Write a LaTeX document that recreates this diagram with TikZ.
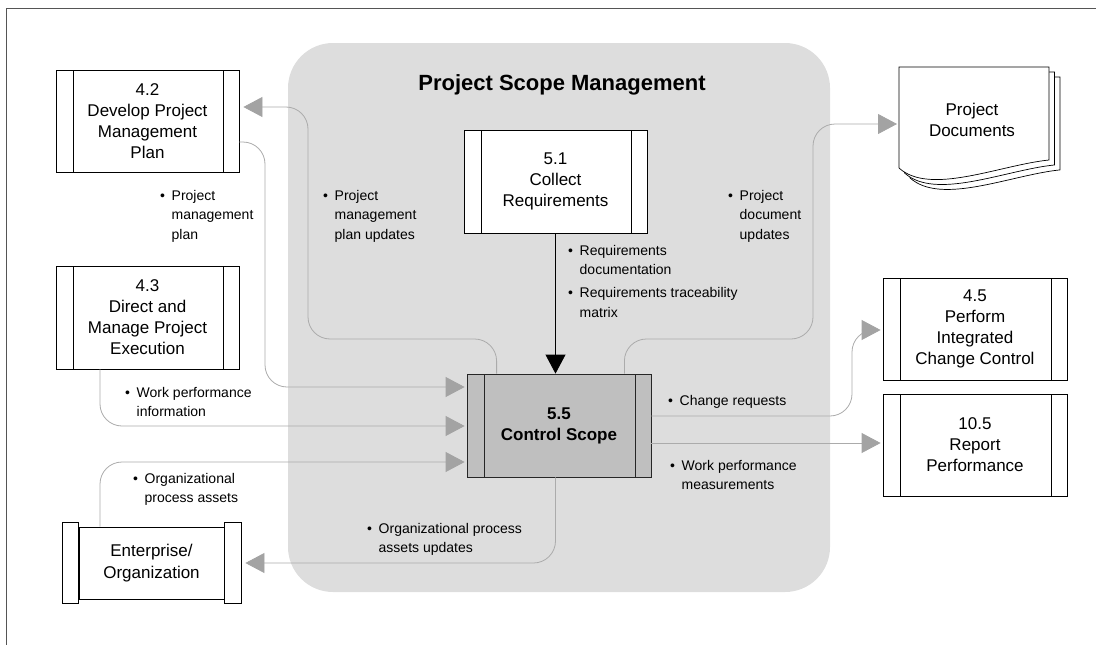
\documentclass[tikz,border=0pt]{standalone}
\usepackage{fontspec}
\setmainfont{Liberation Sans}
\usetikzlibrary{arrows.meta,calc}
\definecolor{regionfill}{HTML}{DDDDDD}
\definecolor{csfill}{HTML}{BFBFBF}
\definecolor{flowline}{HTML}{ABABAB}
\definecolor{tipgray}{HTML}{A3A3A3}
\definecolor{framegray}{HTML}{555555}
\newcommand\bu{\makebox[11.5pt][l]{\textbullet}}
\newcommand\bs{\hspace*{11.5pt}}
\newcommand\lbllines[1]{\begin{tabular}[t]{@{}l@{}}#1\end{tabular}}
\begin{document}
\begin{tikzpicture}[x=1pt,y=-1pt,
  proc/.style={draw=black, line width=0.8pt, fill=white, minimum width=183pt,
    minimum height=102pt, inner sep=0pt, align=center,
    font=\fontsize{17}{21}\selectfont,
    path picture={
      \draw[line width=0.8pt] ([xshift=17pt]path picture bounding box.north west) -- ([xshift=17pt]path picture bounding box.south west);
      \draw[line width=0.8pt] ([xshift=-16pt]path picture bounding box.north east) -- ([xshift=-16pt]path picture bounding box.south east);}},
  csbox/.style={proc, fill=csfill, draw=black!85, minimum width=184pt, minimum height=103pt,
    font=\bfseries\fontsize{17}{21}\selectfont},
  flow/.style={draw=flowline, line width=0.8pt, rounded corners=22pt,
    -{Triangle[length=19pt,width=20pt,color=tipgray]}},
  lbl/.style={anchor=base west, inner sep=0pt, font=\fontsize{14}{19.5}\selectfont},
  page/.style={draw=black, line width=0.7pt, fill=white}
]
\useasboundingbox (0,0) rectangle (1096,645);
% frame
\draw[framegray, line width=1pt] (1096,8) -- (6.5,8) -- (6.5,645);
% scope region
\node[fill=regionfill, rounded corners=45pt, minimum width=542pt, minimum height=549pt, inner sep=0pt] (psm) at (559,317.5) {};
\node[font=\bfseries\fontsize{22}{26}\selectfont] (title) at (562,85) {Project Scope Management};

% process boxes
\node[proc] (d42) at (147.5,121) {4.2\\Develop Project\\Management\\Plan};
\node[proc, minimum height=103pt] (d43) at (147.5,317.5) {4.3\\Direct and\\Manage Project\\Execution};
\node[proc, minimum height=103pt] (cr) at (555.5,181.5) {5.1\\Collect\\Requirements};
\node[csbox] (cs) at (559,425.5) {5.5\\Control Scope};
\node[proc, minimum width=184pt] (pic) at (975,329) {4.5\\Perform\\Integrated\\Change Control};
\node[proc, minimum width=184pt] (rp) at (975,445) {10.5\\Report\\Performance};

% enterprise / organization
\node[draw=black, line width=0.8pt, fill=white, minimum width=145pt, minimum height=72pt,
  inner sep=0pt, align=center, font=\fontsize{17}{22}\selectfont] (ent) at (151.5,563) {Enterprise/\\Organization};
\draw[page, line width=0.8pt] ($(ent.north west)+(-16,-4)$) rectangle ($(ent.south west)+(0,4)$);
\draw[page, line width=0.8pt] ($(ent.north east)+(0,-4)$) rectangle ($(ent.south east)+(17,4)$);

% project documents stack
\foreach \s in {11,5.5,0}{
  \draw[page] (899+\s,67+\s*0.9) -- (1049+\s,67+\s*0.9) -- (1049+\s,160+\s*0.9)
    .. controls (1000+\s,165+\s*0.9) and (930+\s,196+\s*0.9) .. (899+\s,168+\s*0.9) -- cycle;
}
\node[font=\fontsize{17}{21}\selectfont, align=center] (pd) at (972,120) {Project\\Documents};
\coordinate (pdin) at (899,124);

% connectors
\draw[line width=0.8pt, -{Triangle[length=19pt,width=20pt]}] (cr.south) -- (cr.south |- cs.north);
\draw[flow, shorten >=4pt] ($(cs.north west)+(30,0)$) |- (308,339) |- (d42.east |- 0,107);
\draw[flow, shorten >=2pt] ($(d42.east)+(0,21)$) -| (265,387) -- (cs.west |- 0,387);
\draw[flow, shorten >=2pt] ($(d43.south)+(-47.5,0)$) |- (cs.west |- 0,426);
\draw[flow, shorten >=2pt] (ent.north -| 100,0) |- (cs.west |- 0,462);
\draw[flow, shorten >=4pt] (cr.south |- cs.south) |- ($(ent.east)+(17,0)$);
\draw[flow, shorten >=2pt] ($(cs.north east)+(-27,0)$) |- (813,339) |- (pdin);
\draw[flow, shorten >=2pt] (cs.east |- 0,416) -| (852,330) -- (pic.west |- 0,330);
\draw[flow, shorten >=2pt] (cs.east |- 0,443) -- (rp.west |- 0,443);

% labels
\node[lbl] (l1) at (160,200) {\lbllines{\bu Project\\\bs management\\\bs plan}};
\node[lbl] (l2) at (323,200) {\lbllines{\bu Project\\\bs management\\\bs plan updates}};
\node[lbl] (l3) at (728,200) {\lbllines{\bu Project\\\bs document\\\bs updates}};
\node[lbl] (l4) at (568,255) {\lbllines{\bu Requirements\\\bs documentation\\[3.5pt]\bu Requirements traceability\\\bs matrix}};
\node[lbl] (l5) at (125,397) {\lbllines{\bu Work performance\\\bs information}};
\node[lbl] (l6) at (133,483) {\lbllines{\bu Organizational\\\bs process assets}};
\node[lbl] (l7) at (367,533) {\lbllines{\bu Organizational process\\\bs assets updates}};
\node[lbl] (l8) at (668,405) {\lbllines{\bu Change requests}};
\node[lbl] (l9) at (670,470) {\lbllines{\bu Work performance\\\bs measurements}};
\end{tikzpicture}
\end{document}
